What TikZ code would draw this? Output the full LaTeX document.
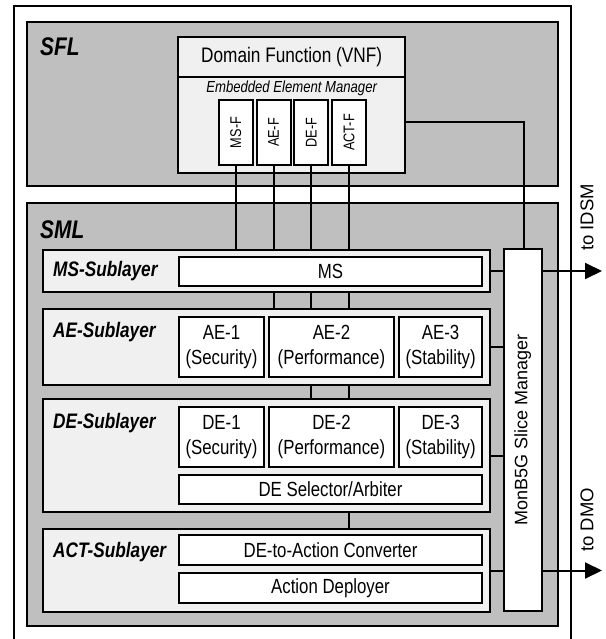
\documentclass[tikz,border=0pt]{standalone}
\usepackage{fontspec}
\setmainfont{Liberation Sans}
\newfontfamily\narrowsf{Liberation Sans}[FakeStretch=0.82]
\usetikzlibrary{arrows.meta}
\definecolor{layergray}{RGB}{191,191,191}
\definecolor{sublight}{RGB}{240,240,240}
\tikzset{
  blk/.style={draw=black, line width=2pt, rectangle, inner sep=0pt, outer sep=0pt},
  layer/.style={blk, fill=layergray},
  sublayer/.style={blk, fill=sublight},
  unit/.style={blk, fill=white, align=center, font=\narrowsf\fontsize{20.5}{25}\selectfont},
  ffunc/.style={blk, fill=white, minimum width=34pt, minimum height=65pt},
  lbl/.style={anchor=west, inner sep=0pt, font=\narrowsf\bfseries\itshape\fontsize{21}{25}\selectfont},
  biglbl/.style={anchor=west, inner sep=0pt, font=\narrowsf\bfseries\itshape\fontsize{25.5}{29}\selectfont},
  wire/.style={line width=2pt},
  outarrow/.style={line width=2pt, -{Triangle[length=17pt,width=16pt]}},
  sidetxt/.style={rotate=90, inner sep=0pt, font=\fontsize{18.5}{22}\selectfont}
}
\begin{document}
\begin{tikzpicture}[x=1pt, y=-1pt]
\useasboundingbox (0,0) rectangle (605,639);

% outer frame (open at the bottom edge)
\draw[line width=2pt] (13.5,640) -- (13.5,6) -- (571,6) -- (571,640);

% the two layers
\node[layer, minimum width=531.5pt, minimum height=164.3pt] (sfl) at (292.25,103.85) {};
\node[layer, minimum width=531.5pt, minimum height=423.3pt] (sml) at (292.25,414.35) {};
\node[biglbl] (sfltxt) at (40,46.7) {SFL};
\node[biglbl] (smltxt) at (40,229.5) {SML};

% domain function with its embedded element manager
\node[sublayer, minimum width=226.7pt, minimum height=39.4pt, font=\narrowsf\fontsize{21}{25}\selectfont] (dom) at (291.65,57) {Domain Function (VNF)};
\node[sublayer, minimum width=226.7pt, minimum height=96.6pt] (emm) at (291.65,125) {};
\node[inner sep=0pt, font=\narrowsf\itshape\fontsize{16}{19}\selectfont] (emmtxt) at (291.65,88.3) {Embedded Element Manager};

\node[ffunc] (msf) at (235.7,132.5) {};
\node[ffunc] (aef) at (273.5,132.5) {};
\node[ffunc] (def) at (311.2,132.5) {};
\node[ffunc] (actf) at (349,132.5) {};
\foreach \n/\t in {msf/MS-F, aef/AE-F, def/DE-F, actf/ACT-F}
  \node[rotate=90, inner sep=0pt, font=\narrowsf\fontsize{15.5}{18}\selectfont] (\n txt) at (\n.center) {\t};

% sublayers
\node[sublayer, minimum width=447pt, minimum height=42pt] (mssub) at (266,271) {};
\node[sublayer, minimum width=447pt, minimum height=76pt] (aesub) at (266,347) {};
\node[sublayer, minimum width=447pt, minimum height=113pt] (desub) at (266,455.5) {};
\node[sublayer, minimum width=447pt, minimum height=83pt] (actsub) at (266,570.5) {};

\node[lbl] (mslbl) at (53,271) {MS-Sublayer};
\node[lbl] (aelbl) at (53,331.7) {AE-Sublayer};
\node[lbl] (delbl) at (53,423) {DE-Sublayer};
\node[lbl] (actlbl) at (53,552) {ACT-Sublayer};

% units inside the sublayers
\node[unit, minimum width=303pt, minimum height=29.3pt] (ms) at (330.5,271.3) {MS};

\node[unit, minimum width=85pt, minimum height=60.6pt] (ae1) at (221.5,347) {AE-1\\(Security)};
\node[unit, minimum width=124.1pt, minimum height=60.6pt] (ae2) at (331.45,347) {AE-2\\(Performance)};
\node[unit, minimum width=82.7pt, minimum height=60.6pt] (ae3) at (440.65,347) {AE-3\\(Stability)};

\node[unit, minimum width=85pt, minimum height=60pt] (de1) at (221.5,436.7) {DE-1\\(Security)};
\node[unit, minimum width=124.1pt, minimum height=60pt] (de2) at (331.45,436.7) {DE-2\\(Performance)};
\node[unit, minimum width=82.7pt, minimum height=60pt] (de3) at (440.65,436.7) {DE-3\\(Stability)};
\node[unit, minimum width=303pt, minimum height=29pt] (desel) at (330.5,489.5) {DE Selector/Arbiter};

\node[unit, minimum width=303pt, minimum height=30pt] (conv) at (330.5,550) {DE-to-Action Converter};
\node[unit, minimum width=303pt, minimum height=29.4pt] (deploy) at (330.5,588) {Action Deployer};

% slice manager
\node[unit, minimum width=37.5pt, minimum height=362pt] (slm) at (522.75,430) {};
\node[rotate=90, inner sep=0pt, font=\fontsize{18}{22}\selectfont] (slmtxt) at (slm.center) {MonB5G Slice Manager};

% links from the element manager functions down through the sublayers
\draw[wire] (msf.south) -- (msf.south |- mssub.north);
\draw[wire] (aef.south) -- (aef.south |- mssub.north);
\draw[wire] (def.south) -- (def.south |- mssub.north);
\draw[wire] (actf.south) -- (actf.south |- mssub.north);

\draw[wire] (aef.south |- mssub.south) -- (aef.south |- aesub.north);
\draw[wire] (def.south |- mssub.south) -- (def.south |- aesub.north);
\draw[wire] (actf.south |- mssub.south) -- (actf.south |- aesub.north);

\draw[wire] (def.south |- aesub.south) -- (def.south |- desub.north);
\draw[wire] (actf.south |- aesub.south) -- (actf.south |- desub.north);

\draw[wire] (actf.south |- desub.south) -- (actf.south |- actsub.north);

% domain function to slice manager
\draw[wire] (emm.east |- 0,122) -| (slm.north -| 523.5,0);

% sublayers to slice manager
\draw[wire] (mssub.east) -- (mssub.east -| slm.west);
\draw[wire] (aesub.east) -- (aesub.east -| slm.west);
\draw[wire] (desub.east) -- (desub.east -| slm.west);
\draw[wire] (actsub.east) -- (actsub.east -| slm.west);

% outputs
\coordinate (idsm) at (602,271);
\coordinate (dmo) at (602,570.5);
\draw[outarrow] (slm.east |- mssub.east) -- (idsm);
\draw[outarrow] (slm.east |- actsub.east) -- (dmo);
\node[sidetxt] (idsmtxt) at (587,217.5) {to IDSM};
\node[sidetxt] (dmotxt) at (587,520) {to DMO};
\end{tikzpicture}
\end{document}
